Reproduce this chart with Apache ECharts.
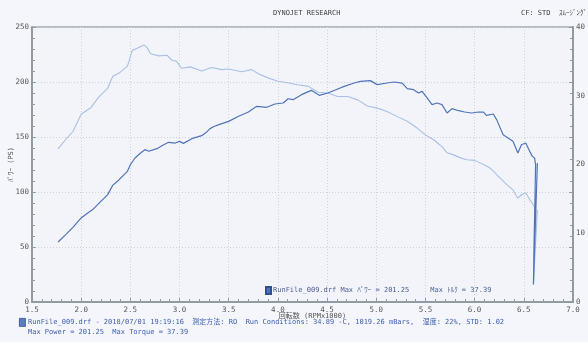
<!DOCTYPE html>
<html><head><meta charset="utf-8">
<script src="https://cdn.jsdelivr.net/npm/echarts@6/dist/echarts.min.js"></script>
<style>html,body{margin:0;padding:0;background:#f4f6fb;}#c{width:588px;height:342px;}</style>
</head><body><div id="c"></div>
<script>
// Power curve (RPM x1000, PS)
const powerRpm = [1.765,1.84,1.916,2.0,2.06,2.117,2.2,2.27,2.32,2.386,2.47,2.5,2.547,2.604,2.648,2.688,2.77,2.83,2.889,2.956,3.0,3.04,3.124,3.225,3.27,3.31,3.35,3.40,3.5,3.6,3.70,3.785,3.886,3.97,4.054,4.104,4.154,4.24,4.34,4.42,4.507,4.59,4.674,4.775,4.84,4.94,5.01,5.11,5.18,5.264,5.315,5.38,5.43,5.466,5.517,5.567,5.618,5.668,5.72,5.77,5.837,5.90,5.97,6.04,6.09,6.12,6.19,6.224,6.29,6.34,6.39,6.44,6.476,6.52,6.56,6.587,6.61,6.62,6.598,6.638];
const powerPS  = [54.5,61,67.9,76.4,80.5,84,91.5,97.6,106,111.2,118.8,124.8,130.9,135.5,138.5,137,139.4,142.5,145.2,144.5,146,144.2,148.5,151.2,154,157.6,159.5,161.2,164.2,168.8,172.7,177.9,177,180,180.9,184.8,183.9,188.5,192.4,187.9,190,193,196,199.1,200.6,201.25,197.6,199.1,200,199,193.9,193,190,191.5,185.5,179.4,180.9,179.4,171.8,175.8,173.9,172.7,171.8,172.7,172.7,169.7,170.9,165.8,152.1,149.1,146.1,135.5,143,144.5,137,132.4,130.9,124.8,16,126.4];
// Torque curve (RPM x1000, kgf-m)
const torqueRpm = [1.765,1.84,1.916,2.0,2.1,2.185,2.27,2.32,2.386,2.47,2.52,2.57,2.638,2.67,2.705,2.79,2.872,2.92,2.97,3.02,3.11,3.225,3.325,3.43,3.5,3.63,3.735,3.80,3.90,4.0,4.10,4.2,4.305,4.41,4.507,4.607,4.71,4.81,4.91,5.01,5.11,5.21,5.315,5.416,5.5,5.584,5.668,5.72,5.786,5.85,5.92,6.0,6.09,6.157,6.24,6.325,6.39,6.44,6.476,6.52,6.56,6.594,6.61,6.598,6.638];
const torqueKgm = [22.26,23.6,24.8,27.3,28.3,29.9,31.1,32.8,33.3,34.3,36.6,36.9,37.39,37.0,36.1,35.8,35.9,35.2,35.0,34.0,34.2,33.6,34.1,33.8,33.9,33.5,33.8,33.2,32.6,32.1,31.9,31.6,31.4,30.5,30.4,29.9,29.9,29.4,28.5,28.2,27.7,27.0,26.3,25.3,24.3,23.6,22.6,21.7,21.4,21.0,20.7,20.6,20.0,19.5,18.3,17.1,16.3,15.1,15.6,15.9,14.9,14.2,13.7,2.6,13.4];

const chartTitle = 'DYNOJET RESEARCH';
const cornerNote = 'CF: STD  ｽﾑｰｼﾞﾝｸﾞ:';
const yAxisName = 'ﾊﾟﾜｰ (PS)';
const xAxisName = '回転数 (RPMx1000)';
const runName = 'RunFile_009.drf';
const legendText = 'RunFile_009.drf Max ﾊﾟﾜｰ = 201.25     Max ﾄﾙｸ = 37.39';
const footer1 = 'RunFile_009.drf - 2018/07/01 19:19:16  測定方法: RO  Run Conditions: 34.89 -C, 1019.26 mBars,  湿度: 22%, STD: 1.02';
const footer2 = 'Max Power = 201.25  Max Torque = 37.39';

const FONT = "'DejaVu Sans Mono','Noto Sans CJK JP',monospace";
const AX = '#939aa2';
const GRIDC = '#cdd1d8';
const POWER_C = '#5074b8';
const TORQUE_C = '#abbfe2';
const TEXT_BLUE = '#3d5fb0';

const zip = (a, b) => a.map((v, i) => [v, b[i]]);

const chart = echarts.init(document.getElementById('c'), null, {renderer: 'canvas'});
chart.setOption({
  animation: false,
  backgroundColor: '#f4f6fb',
  title: [
    {text: chartTitle, left: 268, top: 5, textStyle: {fontFamily: FONT, fontSize: 7, fontWeight: 'normal', color: '#444'}},
    {text: cornerNote, left: 516, top: 5, textStyle: {fontFamily: FONT, fontSize: 7, fontWeight: 'normal', color: '#444'}}
  ],
  grid: {left: 32, right: 12, top: 27, bottom: 40, show: true, backgroundColor: '#f2f4fa', borderColor: '#a3a9b1', borderWidth: 1.5},
  legend: {
    data: [runName], left: 260, top: 281, icon: 'rect', itemWidth: 5, itemHeight: 7, itemGap: 2,
    formatter: () => legendText,
    textStyle: {fontFamily: FONT, fontSize: 7, color: '#4a5f90', padding: [0,0,0,-3]}
  },
  xAxis: {
    type: 'value', min: 1.5, max: 7.0, interval: 0.5,
    name: xAxisName, nameLocation: 'middle', nameGap: 11, nameMoveOverlap: false,
    nameTextStyle: {fontFamily: FONT, fontSize: 7, color: '#555', padding: [0,0,0,20]},
    axisLine: {show: true, lineStyle: {color: AX, width: 2}},
    axisTick: {show: true, inside: true, length: 4, lineStyle: {color: AX}},
    minorTick: {show: true, splitNumber: 5, length: 3, lineStyle: {color: AX}},
    splitLine: {show: true, lineStyle: {type: [1, 2], color: GRIDC, width: 1}},
    axisLabel: {formatter: v => v.toFixed(1), margin: 4, fontFamily: FONT, fontSize: 7.5, color: '#555'}
  },
  yAxis: [
    {
      type: 'value', min: 0, max: 250, interval: 50, position: 'left',
      name: yAxisName, nameLocation: 'middle', nameGap: 17, nameMoveOverlap: false,
      nameTextStyle: {fontFamily: FONT, fontSize: 7, color: '#555'},
      axisLine: {show: true, lineStyle: {color: AX, width: 2}},
      axisTick: {show: true, inside: true, length: 4, lineStyle: {color: AX}},
      minorTick: {show: true, splitNumber: 5, length: 3, lineStyle: {color: AX}},
      splitLine: {show: true, lineStyle: {type: [1, 2], color: GRIDC, width: 1}},
      axisLabel: {margin: 3, fontFamily: FONT, fontSize: 7.5, color: '#555'}
    },
    {
      type: 'value', min: 0, max: 40, interval: 10, position: 'right',
      axisLine: {show: false}, axisTick: {show: false}, splitLine: {show: false},
      axisLabel: {margin: 3, fontFamily: FONT, fontSize: 7.5, color: '#555'}
    },
    {
      type: 'value', min: 0, max: 250, interval: 50, position: 'right',
      axisLine: {show: true, lineStyle: {color: AX, width: 2}},
      axisTick: {show: true, inside: true, length: 4, lineStyle: {color: AX}},
      minorTick: {show: true, splitNumber: 5, length: 3, lineStyle: {color: AX}},
      splitLine: {show: false}, axisLabel: {show: false}
    }
  ],
  series: [
    {name: 'torque', type: 'line', yAxisIndex: 1, data: zip(torqueRpm, torqueKgm), showSymbol: false,
     lineStyle: {color: TORQUE_C, width: 1.1}, itemStyle: {color: TORQUE_C}, z: 2},
    {name: runName, type: 'line', yAxisIndex: 0, data: zip(powerRpm, powerPS), showSymbol: false,
     lineStyle: {color: POWER_C, width: 1.2}, itemStyle: {color: POWER_C, borderColor: '#2f4f8f', borderWidth: 0.8}, z: 3}
  ],
  graphic: [
    {type: 'rect', left: 19, top: 318, shape: {width: 6, height: 8}, style: {fill: '#5a7cc0', stroke: '#2f4f8f', lineWidth: 0.8}},
    {type: 'text', left: 28, top: 319, style: {text: footer1, font: "7px " + FONT, fill: TEXT_BLUE}},
    {type: 'text', left: 28, top: 329, style: {text: footer2, font: "7px " + FONT, fill: TEXT_BLUE}}
  ]
});
</script></body></html>
